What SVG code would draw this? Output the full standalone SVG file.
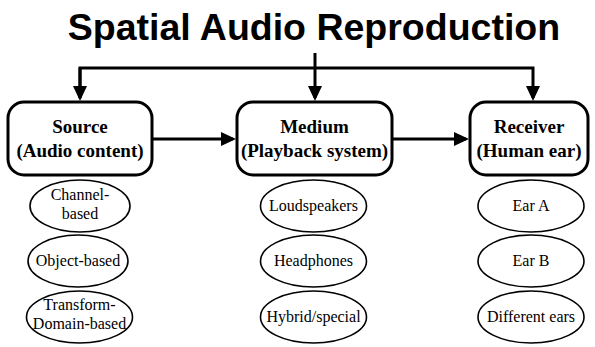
<svg xmlns="http://www.w3.org/2000/svg" width="595" height="347" viewBox="0 0 595 347">
<style>
.title{font-family:"Liberation Sans",Arial,sans-serif;font-weight:bold;font-size:37.5px;fill:#000}
.box{fill:#fff;stroke:#000;stroke-width:3}
.bt{font-family:"Liberation Serif","Times New Roman",serif;font-weight:bold;font-size:19px;fill:#000;text-anchor:middle}
.ell{fill:#fff;stroke:#000;stroke-width:1.6}
.et{font-family:"Liberation Serif","Times New Roman",serif;font-size:16px;fill:#000;text-anchor:middle}
.conn{fill:none;stroke:#000;stroke-width:3}
</style>
<defs>
<marker id="ah" markerWidth="15" markerHeight="14" refX="12" refY="7" orient="auto" markerUnits="userSpaceOnUse" viewBox="0 0 15 14">
<path d="M0,0 L15,7 L0,14 Z" fill="#000"/>
</marker>
</defs>
<text class="title" x="314" y="40" text-anchor="middle">Spatial Audio Reproduction</text>
<g id="connectors">
<path class="conn" d="M315,53 V98" marker-end="url(#ah)"/>
<path class="conn" d="M80,98 V68 H533 V98" marker-end="url(#ah)"/>
<path class="conn" d="M80,68 V98" marker-end="url(#ah)"/>
<path class="conn" d="M152,139 H233" marker-end="url(#ah)"/>
<path class="conn" d="M392,139 H466" marker-end="url(#ah)"/>
</g>
<g id="source">
<rect class="box" x="8" y="102" width="144" height="73" rx="16"/>
<text class="bt" x="80" y="133">Source</text>
<text class="bt" x="80" y="157">(Audio content)</text>
</g>
<g id="medium">
<rect class="box" x="237" y="102" width="155" height="73" rx="16"/>
<text class="bt" x="314.5" y="133">Medium</text>
<text class="bt" x="314.5" y="157">(Playback system)</text>
</g>
<g id="receiver">
<rect class="box" x="470" y="102" width="118" height="73" rx="16"/>
<text class="bt" x="529" y="133">Receiver</text>
<text class="bt" x="529" y="157">(Human ear)</text>
</g>
<g id="channel-based">
<ellipse class="ell" cx="80" cy="206" rx="50" ry="26"/>
<text class="et" x="80" y="200">Channel-</text>
<text class="et" x="80" y="219">based</text>
</g>
<g id="object-based">
<ellipse class="ell" cx="78" cy="261" rx="50" ry="26"/>
<text class="et" x="78" y="266">Object-based</text>
</g>
<g id="transform-domain-based">
<ellipse class="ell" cx="79.5" cy="317" rx="53" ry="26"/>
<text class="et" x="79.5" y="310">Transform-</text>
<text class="et" x="79.5" y="329">Domain-based</text>
</g>
<g id="loudspeakers">
<ellipse class="ell" cx="313.5" cy="206" rx="53" ry="26"/>
<text class="et" x="313.5" y="211">Loudspeakers</text>
</g>
<g id="headphones">
<ellipse class="ell" cx="313.5" cy="261" rx="53" ry="26"/>
<text class="et" x="313.5" y="266">Headphones</text>
</g>
<g id="hybrid">
<ellipse class="ell" cx="313.5" cy="317" rx="53" ry="26"/>
<text class="et" x="313.5" y="322">Hybrid/special</text>
</g>
<g id="ear-a">
<ellipse class="ell" cx="531" cy="206" rx="53" ry="26"/>
<text class="et" x="531" y="211">Ear A</text>
</g>
<g id="ear-b">
<ellipse class="ell" cx="531" cy="261" rx="53" ry="26"/>
<text class="et" x="531" y="266">Ear B</text>
</g>
<g id="different-ears">
<ellipse class="ell" cx="531" cy="317" rx="53" ry="26"/>
<text class="et" x="531" y="322">Different ears</text>
</g>
</svg>
